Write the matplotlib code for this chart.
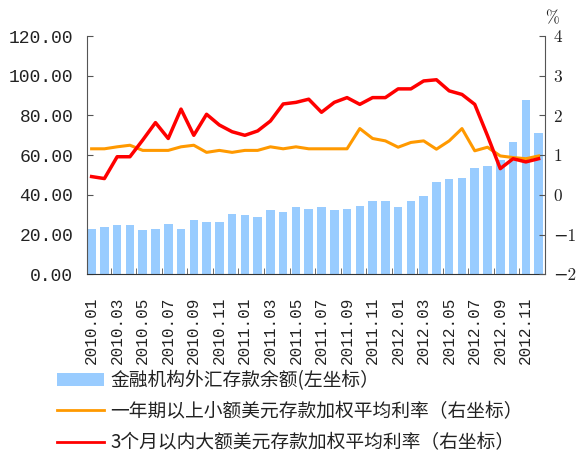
import matplotlib
matplotlib.use("Agg")
import matplotlib.pyplot as plt
from matplotlib.patches import Patch
from matplotlib.lines import Line2D
import numpy as np

# monthly data 2010.01 - 2012.12
deposits = [22.7, 23.7, 24.7, 24.7, 22.2, 22.7, 25.2, 22.7, 27.2, 26.2, 26.2, 30.3,
            29.8, 28.7, 32.3, 31.3, 33.8, 32.8, 33.8, 32.3, 32.8, 34.3, 36.8, 36.8,
            33.8, 36.8, 39.3, 46.4, 47.9, 48.4, 53.5, 54.5, 57.5, 66.6, 87.7, 71.1]
rate_small = [1.16, 1.16, 1.21, 1.25, 1.12, 1.12, 1.12, 1.21, 1.25, 1.07, 1.12, 1.07,
              1.12, 1.12, 1.21, 1.16, 1.21, 1.16, 1.16, 1.16, 1.16, 1.67, 1.42, 1.36,
              1.20, 1.32, 1.36, 1.15, 1.36, 1.67, 1.11, 1.20, 0.98, 0.94, 0.91, 0.98]
rate_large = [0.46, 0.41, 0.96, 0.96, 1.38, 1.82, 1.42, 2.16, 1.50, 2.03, 1.76, 1.59,
              1.50, 1.61, 1.86, 2.29, 2.33, 2.41, 2.08, 2.33, 2.45, 2.28, 2.45, 2.45,
              2.67, 2.67, 2.87, 2.90, 2.62, 2.53, 2.28, 1.49, 0.66, 0.91, 0.83, 0.91]
tick_labels = ["2010.01", "2010.03", "2010.05", "2010.07", "2010.09", "2010.11",
               "2011.01", "2011.03", "2011.05", "2011.07", "2011.09", "2011.11",
               "2012.01", "2012.03", "2012.05", "2012.07", "2012.09", "2012.11"]
legend_labels = ["金融机构外汇存款余额(左坐标）",
                 "一年期以上小额美元存款加权平均利率（右坐标）",
                 "3个月以内大额美元存款加权平均利率（右坐标）"]

bar_color = "#99CCFF"
orange = "#FF9900"
red = "#FF0000"
spine_col = "#555555"
txt_col = "#222222"

x = np.arange(len(deposits))

fig = plt.figure(figsize=(5.81, 4.57), dpi=100)
ax = fig.add_axes([0.150, 0.400, 0.788, 0.521])
ax.bar(x, deposits, width=0.67, color=bar_color, zorder=2)
ax.set_ylim(0, 120)
ax.set_xlim(-0.35, 35.5)
ax.set_yticks(np.arange(0, 121, 20))
ax.set_yticklabels([f"{v:.2f}" for v in np.arange(0, 121, 20)],
                   family="Liberation Mono", fontsize=13, color=txt_col)
ax.set_xticks(x[::2])
ax.set_xticklabels(tick_labels, rotation=90, family="Liberation Mono",
                   fontsize=11.5, color=txt_col)
ax.set_xticks(np.arange(1.5, 36, 2), minor=True)
ax.tick_params(axis="x", which="major", length=0, pad=16)
ax.tick_params(axis="x", which="minor", direction="in", length=4, color=spine_col)
ax.tick_params(axis="y", direction="in", length=4, color=spine_col, pad=10)
for s in ["top", "right"]:
    ax.spines[s].set_visible(False)
ax.spines["left"].set_color(spine_col)
ax.spines["bottom"].set_color("#333333")

ax2 = ax.twinx()
ax2.plot(x, rate_small, color=orange, lw=2.2, zorder=3)
ax2.plot(x, rate_large, color=red, lw=2.5, zorder=4)
ax2.set_ylim(-2, 4)
ax2.set_yticks(range(-2, 5))
ax2.set_yticklabels([str(v).replace("-", "\u2212") for v in range(-2, 5)],
                    family=["cmr10", "DejaVu Serif"], fontsize=12.5, color=txt_col)
ax2.tick_params(axis="y", direction="in", length=4, color=spine_col, pad=6)
for s in ["top", "left", "bottom"]:
    ax2.spines[s].set_visible(False)
ax2.spines["right"].set_color(spine_col)
ax2.text(1.0, 1.04, "%", transform=ax2.transAxes, ha="left", va="bottom",
         family=["cmr10", "DejaVu Serif"], fontsize=12, color=txt_col)

handles = [Patch(facecolor=bar_color, edgecolor="none"),
           Line2D([], [], color=orange, lw=2),
           Line2D([], [], color=red, lw=2)]
fig.legend(handles, legend_labels, loc="upper left", bbox_to_anchor=(0.069, 0.228),
           frameon=False, prop={"family": "Noto Sans CJK SC", "size": 13.5},
           handlelength=2.5, handleheight=0.7, handletextpad=0.35,
           labelspacing=0.55, borderpad=0.4, labelcolor=txt_col)

fig.savefig("out.png", dpi=100)
